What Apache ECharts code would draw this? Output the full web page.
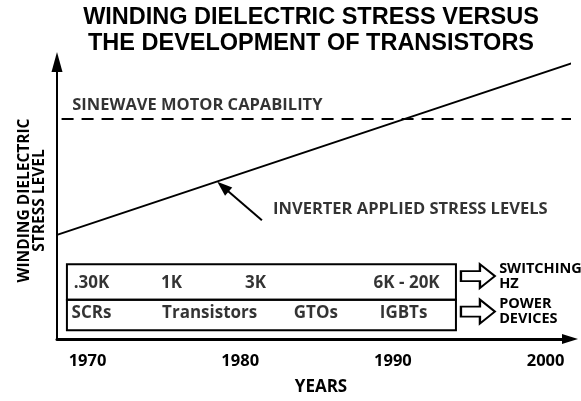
<!DOCTYPE html>
<html>
<head>
<meta charset="utf-8">
<script src="https://cdn.jsdelivr.net/npm/echarts@6/dist/echarts.min.js"></script>
<style>html,body{margin:0;padding:0;background:#fff}#c{width:581px;height:401px}</style>
</head>
<body>
<div id="c"></div>
<script>
// ---- data ----
const titleLines = ['WINDING DIELECTRIC STRESS VERSUS', 'THE DEVELOPMENT OF TRANSISTORS'];
const xTickYears = [1970, 1980, 1990, 2000];
const inverterYears = [1968, 2001.75];
const inverterStress = [37.6, 99.6];
const sinewaveYears = [1968.3, 2002.4];
const sinewaveCapability = 79.4;
const frequencyLabels = ['.30K', '1K', '3K', '6K - 20K'];
const frequencyYears = [1970.26, 1975.5, 1981.0, 1990.9];
const deviceLabels = ['SCRs', 'Transistors', 'GTOs', 'IGBTs'];
const deviceYears = [1970.26, 1978.0, 1984.95, 1990.7];
const legendLabels = ['SWITCHING\nHZ', 'POWER\nDEVICES'];
const annotationTexts = ['SINEWAVE MOTOR CAPABILITY', 'INVERTER APPLIED STRESS LEVELS'];

// ---- layout helpers (annotation positions in axis units) ----
const boxX = [1968.65, 1994.13];
const rowY = [26.95, 14.18, 3.19];
const freqRowY = 20.3, devRowY = 9.3;
const arrowX = 1995.57, arrowY = [22.7, 9.9];
const annotPos = [[1969.0, 84.4], [1982.15, 46.8]];
const pointer = [[1981.42, 42.9], [1978.87, 55.0]];

const FONT = 'Open Sans';
const txt = (size, extra) => Object.assign({fontFamily: FONT, fontWeight: 'bold', fontSize: size, color: '#000'}, extra || {});

const chart = echarts.init(document.getElementById('c'), null, {renderer: 'canvas'});
chart.setOption({
  animation: false,
  backgroundColor: '#fff',
  title: {
    text: titleLines.join('\n'),
    left: 306,
    top: 0,
    textAlign: 'center',
    textStyle: {fontFamily: 'Liberation Sans', fontWeight: 'bold', fontSize: 23.5, lineHeight: 26, color: '#000'}
  },
  grid: {left: 57, right: 11, top: 62, bottom: 57, containLabel: false},
  xAxis: {
    type: 'value', min: 1968, max: 2001.6,
    splitLine: {show: false}, axisTick: {show: false},
    axisLine: {lineStyle: {color: '#000', width: 3}, symbol: ['none', 'triangle'], symbolSize: [10, 16]},
    axisLabel: Object.assign(txt(16.5), {customValues: xTickYears, margin: 14, formatter: v => String(v)}),
    name: 'YEARS', nameLocation: 'middle', nameGap: 40,
    nameTextStyle: txt(17, {padding: [0, 0, 0, 15]})
  },
  yAxis: {
    type: 'value', min: 0, max: 100,
    splitLine: {show: false}, axisTick: {show: false}, axisLabel: {show: false},
    axisLine: {lineStyle: {color: '#000', width: 2}, symbol: ['none', 'triangle'], symbolSize: [11, 20]},
    name: 'WINDING DIELECTRIC\nSTRESS LEVEL', nameLocation: 'middle', nameRotate: 90, nameGap: 10,
    nameTextStyle: txt(15.5, {lineHeight: 15})
  },
  series: [
    {
      type: 'line', name: 'inverter', clip: false, symbol: 'none', silent: true,
      data: inverterYears.map((y, i) => [y, inverterStress[i]]),
      lineStyle: {color: '#000', width: 2},
      markLine: {
        silent: true, symbolSize: [11, 15],
        lineStyle: {color: '#000', width: 2, type: 'solid'},
        label: {show: false},
        data: [[{coord: pointer[0], symbol: 'none'}, {coord: pointer[1], symbol: 'triangle'}]]
      }
    },
    {
      type: 'line', name: 'sinewave', clip: false, symbol: 'none', silent: true,
      data: sinewaveYears.map(y => [y, sinewaveCapability]),
      lineStyle: {color: '#000', width: 2, type: [12, 8]}
    },
    {
      type: 'scatter', name: 'frequency', clip: false, symbolSize: 0, silent: true,
      data: frequencyLabels.map((t, i) => ({value: [frequencyYears[i], freqRowY], name: t})),
      label: Object.assign(txt(17), {show: true, position: 'inside', formatter: p => p.name}),
      markArea: {
        silent: true,
        itemStyle: {color: 'rgba(0,0,0,0)', borderColor: '#000', borderWidth: 2},
        data: [
          [{coord: [boxX[0], rowY[0]]}, {coord: [boxX[1], rowY[1]]}],
          [{coord: [boxX[0], rowY[1]]}, {coord: [boxX[1], rowY[2]]}]
        ]
      }
    },
    {
      type: 'scatter', name: 'devices', clip: false, symbolSize: 0, silent: true,
      data: deviceLabels.map((t, i) => ({value: [deviceYears[i], devRowY], name: t})),
      label: Object.assign(txt(17), {show: true, position: 'inside', formatter: p => p.name})
    },
    {
      type: 'scatter', name: 'blockArrows', clip: false, silent: true,
      symbol: 'path://M0,7L19,7L19,0L34,12L19,24L19,17L0,17Z', symbolSize: [34, 24],
      itemStyle: {color: '#fff', borderColor: '#000', borderWidth: 2, opacity: 1},
      data: legendLabels.map((t, i) => ({value: [arrowX, arrowY[i]], name: t})),
      label: Object.assign(txt(14.5, {lineHeight: 15}), {show: true, position: 'right', distance: 3, align: 'left', formatter: p => p.name})
    },
    {
      type: 'scatter', name: 'annotations', clip: false, symbolSize: 0, silent: true,
      data: annotationTexts.map((t, i) => ({value: annotPos[i], name: t})),
      label: Object.assign(txt(16.5), {show: true, position: 'right', distance: 0, formatter: p => p.name})
    }
  ]
});
</script>
</body>
</html>
